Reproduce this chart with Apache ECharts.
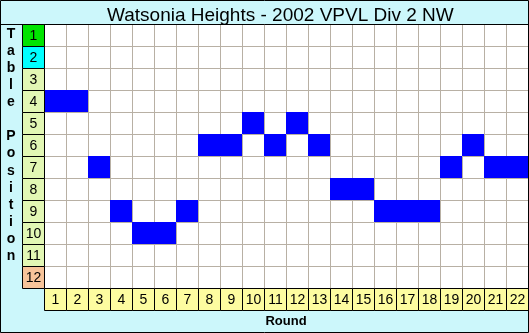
<!DOCTYPE html>
<html>
<head>
<meta charset="utf-8">
<script src="https://cdn.jsdelivr.net/npm/echarts@6/dist/echarts.min.js"></script>
<style>html,body{margin:0;padding:0;background:#ccf7fb;}#c{width:529px;height:333px;}</style>
</head>
<body>
<div id="c"></div>
<script>
const titleText = 'Watsonia Heights - 2002 VPVL Div 2 NW';
const rounds = ['1','2','3','4','5','6','7','8','9','10','11','12','13','14','15','16','17','18','19','20','21','22'];
const positions = ['1','2','3','4','5','6','7','8','9','10','11','12'];
const positionByRound = [4,4,7,9,10,10,9,6,6,5,6,5,6,8,8,9,9,9,7,6,7,7];
const positionColors = ['#00e400','#00ffff','#e2f7b4','#e2f7b4','#e2f7b4','#e2f7b4','#e2f7b4','#e2f7b4','#e2f7b4','#e2f7b4','#e2f7b4','#f7c49a'];
const roundColor = '#fdfca0';
const xName = 'Round';
const yName = 'Table Position';

const chart = echarts.init(document.getElementById('c'), null, {renderer:'canvas'});

function cellRect(api, fill, stroke, label) {
  const p = api.coord([api.value(0), api.value(1)]);
  const s = api.size([1, 1]);
  const x = Math.round(p[0] - s[0] / 2), y = Math.round(p[1] - s[1] / 2);
  const w = Math.round(s[0]), h = Math.round(s[1]);
  const children = [{
    type: 'rect',
    shape: stroke ? {x: x + 0.5, y: y + 0.5, width: w, height: h} : {x: x, y: y, width: w, height: h},
    style: stroke ? {fill: fill, stroke: stroke, lineWidth: 1} : {fill: fill}
  }];
  if (label != null) {
    children.push({
      type: 'text',
      style: {text: label, x: x + w / 2 + 0.5, y: y + h / 2 + 1, align: 'center', verticalAlign: 'middle',
        font: '14px "Liberation Sans", Arial, sans-serif', fill: '#000'}
    });
  }
  return {type: 'group', children: children};
}

chart.setOption({
  backgroundColor: '#ccf7fb',
  animation: false,
  title: {
    text: titleText, left: 102, top: 1,
    textStyle: {fontFamily: '"Liberation Sans", Arial, sans-serif', fontSize: 19, fontWeight: 'normal', color: '#000'}
  },
  grid: [
    {left: 44, top: 24, width: 484, height: 264, backgroundColor: '#fff', show: true, borderWidth: 0},
    {left: 22, top: 24, width: 22, height: 264},
    {left: 44, top: 288, width: 484, height: 22}
  ],
  xAxis: [
    {type: 'category', gridIndex: 0, data: rounds, axisLine: {show: false}, axisTick: {show: false}, axisLabel: {show: false},
      splitLine: {show: true, lineStyle: {color: '#b8b0a4', width: 1}}},
    {type: 'category', gridIndex: 1, data: ['p'], show: false},
    {type: 'category', gridIndex: 2, data: rounds, show: false}
  ],
  yAxis: [
    {type: 'category', gridIndex: 0, data: positions, inverse: true, axisLine: {show: false}, axisTick: {show: false}, axisLabel: {show: false},
      splitLine: {show: true, lineStyle: {color: '#b8b0a4', width: 1}}},
    {type: 'category', gridIndex: 1, data: positions, inverse: true, show: false},
    {type: 'category', gridIndex: 2, data: ['r'], show: false}
  ],
  graphic: [
    {type: 'line', shape: {x1: 0, y1: 24.5, x2: 529, y2: 24.5}, style: {stroke: '#000', lineWidth: 1}, z: 10},
    {type: 'rect', shape: {x: 0.5, y: 0.5, width: 528, height: 332}, style: {fill: 'none', stroke: '#000', lineWidth: 1}, z: 10},
    {type: 'text', style: {text: xName, x: 286, y: 321, align: 'center', verticalAlign: 'middle',
      font: 'bold 13px "Liberation Sans", Arial, sans-serif', fill: '#000'}, z: 10},
    {type: 'text', style: {text: yName.split('').join('\n'), x: 11, y: 145, align: 'center', verticalAlign: 'middle',
      lineHeight: 17.1, font: 'bold 14px "Liberation Sans", Arial, sans-serif', fill: '#000'}, z: 10}
  ],
  series: [
    {
      type: 'custom', xAxisIndex: 0, yAxisIndex: 0,
      data: positionByRound.map((p, i) => [i, p - 1]),
      renderItem: (params, api) => cellRect(api, '#0000ff', null, null)
    },
    {
      type: 'custom', xAxisIndex: 1, yAxisIndex: 1, clip: false,
      data: positions.map((p, i) => [0, i]),
      renderItem: (params, api) => cellRect(api, positionColors[api.value(1)], '#000', positions[api.value(1)])
    },
    {
      type: 'custom', xAxisIndex: 2, yAxisIndex: 2, clip: false,
      data: rounds.map((r, i) => [i, 0]),
      renderItem: (params, api) => cellRect(api, roundColor, '#000', rounds[api.value(0)])
    }
  ]
});
</script>
</body>
</html>
